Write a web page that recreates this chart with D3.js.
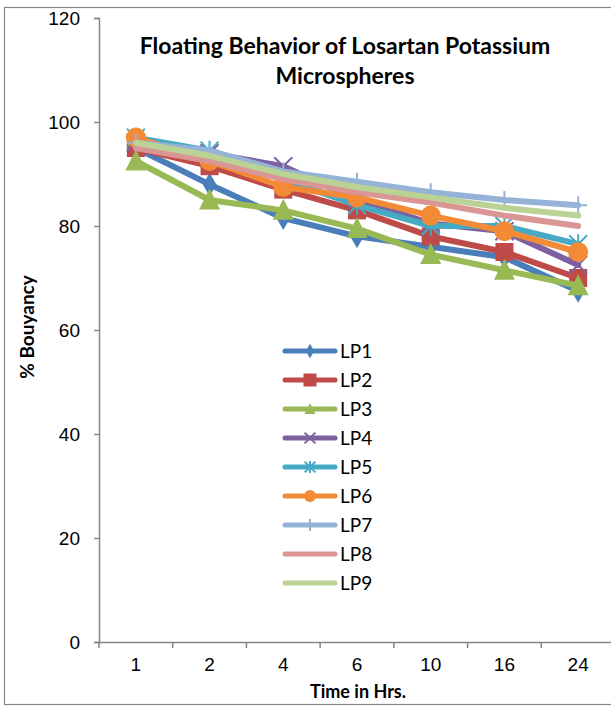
<!DOCTYPE html>
<html>
<head>
<meta charset="utf-8">
<script src="https://cdn.jsdelivr.net/npm/d3@7"></script>
<style>
  body { margin: 0; background: #fff; }
  svg { display: block; font-family: Lato, "Noto Sans", sans-serif; }
</style>
</head>
<body>
<svg id="chart" width="611" height="711"></svg>
<script>
let hours = ['1', '2', '4', '6', '10', '16', '24'];
let seriesNames = ['LP1', 'LP2', 'LP3', 'LP4', 'LP5', 'LP6', 'LP7', 'LP8', 'LP9'];
let lp1 = [95, 88, 81.5, 78, 76, 74, 67.5];
let lp2 = [95, 91.5, 87, 83, 78, 75, 70];
let lp3 = [92.5, 85, 83, 79.5, 74.5, 71.5, 68.5];
let lp4 = [96, 94, 91.5, 85, 80.5, 79, 72.5];
let lp5 = [97, 94.5, 89, 84, 80, 80, 76.5];
let lp6 = [97, 92.5, 87.5, 85.5, 82, 79, 75];
let lp7 = [96, 94.5, 90.5, 88.5, 86.5, 85, 84];
let lp8 = [95, 92.5, 89, 86.5, 84.5, 82, 80];
let lp9 = [96, 93.5, 90, 87.5, 85.5, 83.5, 82];
let yTicks = [0, 20, 40, 60, 80, 100, 120];

let allValues = [lp1, lp2, lp3, lp4, lp5, lp6, lp7, lp8, lp9];
let colors = ['#4A7EBB', '#BE4B48', '#98B954', '#7D60A0', '#46AAC5', '#F38A35', '#95B3D7', '#D99694', '#BBD295'];
let markers = ['diamond', 'square', 'triangle', 'x', 'star', 'circle', 'plus', 'none', 'none'];

let svg = d3.select('#chart');

// outer border
svg.append('rect')
    .attr('x', 4.5).attr('y', 7.5)
    .attr('width', 640).attr('height', 697)
    .attr('fill', 'none')
    .attr('stroke', '#868686')
    .attr('stroke-width', 1.2);

let x = d3.scaleBand().domain(hours).range([99, 615]).padding(0);
let y = d3.scaleLinear().domain([0, 120]).range([642, 18]);
let cx = (h) => x(h) + x.bandwidth() / 2;

// y axis
let yAxis = d3.axisLeft(y).tickValues(yTicks).tickSize(5).tickPadding(14);
let gy = svg.append('g').attr('transform', 'translate(99,0)').call(yAxis);
gy.select('.domain').attr('stroke', '#868686').attr('stroke-width', 1.5);
gy.selectAll('.tick line').attr('stroke', '#868686').attr('stroke-width', 1.5);
gy.selectAll('.tick text').attr('font-size', 19).attr('fill', '#000');

// x axis
let xAxis = d3.axisBottom(x).tickSize(0).tickPadding(16);
let gx = svg.append('g').attr('transform', 'translate(0,642)').call(xAxis);
gx.select('.domain').attr('stroke', '#868686').attr('stroke-width', 1.5);
gx.selectAll('.tick text').attr('font-size', 19).attr('fill', '#000');
gx.selectAll('.tick line').remove();
svg.append('g').selectAll('line')
    .data(hours)
    .enter().append('line')
    .attr('x1', (d) => x(d)).attr('x2', (d) => x(d))
    .attr('y1', 642).attr('y2', 648)
    .attr('stroke', '#868686').attr('stroke-width', 1.5);

// marker shapes
function drawMarker(g, type, color, px, py, big) {
    let s = big ? 1 : 0.6;
    if (type === 'diamond') {
        g.append('path')
            .attr('d', d3.symbol().type(d3.symbolDiamond).size(big ? 160 : 60)())
            .attr('transform', 'translate(' + px + ',' + py + ')')
            .attr('fill', color);
    } else if (type === 'square') {
        let w = big ? 18 : 13;
        g.append('rect').attr('x', px - w / 2).attr('y', py - w / 2)
            .attr('width', w).attr('height', w).attr('fill', color);
    } else if (type === 'triangle') {
        let w = big ? 21 : 11;
        g.append('path')
            .attr('d', 'M' + px + ',' + (py - w * 0.55) + 'L' + (px + w / 2) + ',' + (py + w * 0.45) + 'L' + (px - w / 2) + ',' + (py + w * 0.45) + 'Z')
            .attr('fill', color);
    } else if (type === 'x') {
        let r = 9 * s;
        g.append('path')
            .attr('d', 'M' + (px - r) + ',' + (py - r) + 'L' + (px + r) + ',' + (py + r) + 'M' + (px + r) + ',' + (py - r) + 'L' + (px - r) + ',' + (py + r))
            .attr('stroke', color).attr('stroke-width', 2);
    } else if (type === 'star') {
        let r = 9 * s;
        g.append('path')
            .attr('d', 'M' + (px - r) + ',' + (py - r) + 'L' + (px + r) + ',' + (py + r) + 'M' + (px + r) + ',' + (py - r) + 'L' + (px - r) + ',' + (py + r) + 'M' + px + ',' + (py - r * 1.1) + 'L' + px + ',' + (py + r * 1.1))
            .attr('stroke', color).attr('stroke-width', 2);
    } else if (type === 'circle') {
        g.append('circle').attr('cx', px).attr('cy', py).attr('r', big ? 10 : 6).attr('fill', color);
    } else if (type === 'plus') {
        let r = big ? 9 : 6;
        g.append('path')
            .attr('d', 'M' + (px - r) + ',' + py + 'L' + (px + r) + ',' + py + 'M' + px + ',' + (py - r) + 'L' + px + ',' + (py + r))
            .attr('stroke', color).attr('stroke-width', 2);
    }
}

// lines ----------------------------------------------------------------------
let line = d3.line()
    .x((d, i) => cx(hours[i]))
    .y((d) => y(d));

seriesNames.map((name, k) => {
    let g = svg.append('g');
    g.append('path')
        .datum(allValues[k])
        .attr('fill', 'none')
        .attr('stroke', colors[k])
        .attr('stroke-width', 6)
        .attr('stroke-linejoin', 'round')
        .attr('stroke-linecap', 'round')
        .attr('d', line);
    allValues[k].forEach((v, i) => {
        drawMarker(g, markers[k], colors[k], cx(hours[i]), y(v), true);
    });
});

// legend
let legend = svg.append('g');
seriesNames.map((name, k) => {
    let ly = 351 + k * 29;
    legend.append('line')
        .attr('x1', 285).attr('x2', 335)
        .attr('y1', ly).attr('y2', ly)
        .attr('stroke', colors[k])
        .attr('stroke-width', 5)
        .attr('stroke-linecap', 'round');
    drawMarker(legend, markers[k], colors[k], 310, ly, false);
    legend.append('text')
        .attr('x', 340).attr('y', ly + 7)
        .attr('font-size', 19)
        .text(name);
});

// titles
svg.append('text')
    .attr('x', 345).attr('y', 54)
    .attr('text-anchor', 'middle')
    .attr('font-size', 23).attr('font-weight', 'bold')
    .text('Floating Behavior of Losartan Potassium');
svg.append('text')
    .attr('x', 345).attr('y', 84)
    .attr('text-anchor', 'middle')
    .attr('font-size', 23).attr('font-weight', 'bold')
    .text('Microspheres');
svg.append('text')
    .attr('transform', 'translate(34,327) rotate(-90)')
    .attr('text-anchor', 'middle')
    .attr('font-size', 19).attr('font-weight', 'bold')
    .text('% Bouyancy');
svg.append('text')
    .attr('x', 358).attr('y', 698)
    .attr('text-anchor', 'middle')
    .attr('font-size', 18).attr('font-weight', 'bold')
    .text('Time in Hrs.');
</script>
</body>
</html>
